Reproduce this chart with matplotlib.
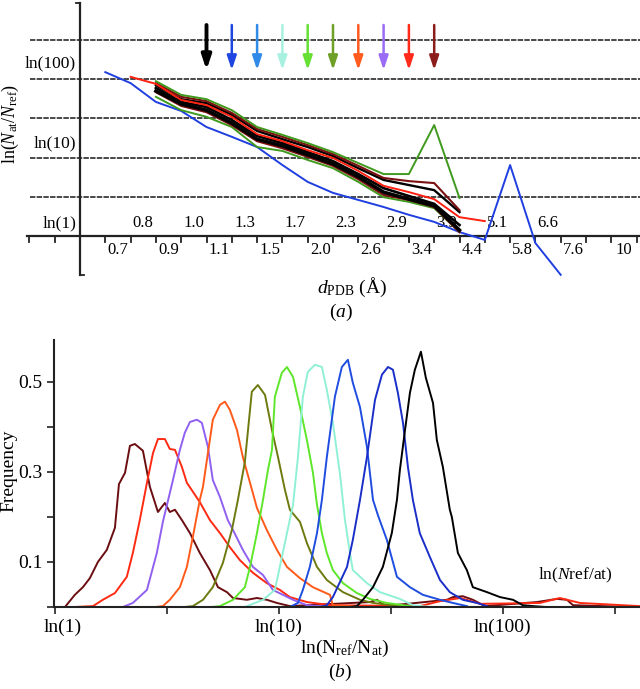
import matplotlib
matplotlib.use("Agg")
import matplotlib.pyplot as plt
from matplotlib.transforms import ScaledTranslation

plt.rcParams['font.family'] = ['Liberation Serif', 'DejaVu Serif']
plt.rcParams['mathtext.fontset'] = 'custom'
plt.rcParams['mathtext.rm'] = 'Liberation Serif'
plt.rcParams['mathtext.it'] = 'Liberation Serif:italic'

# ---------------- panel (a) data ----------------
res_lower = ['0.7', '0.9', '1.1', '1.5', '2.0', '2.6', '3.4', '4.4', '5.8', '7.6', '10']
res_lower_pos = [1.5, 3.5, 5.5, 7.5, 9.5, 11.5, 13.5, 15.5, 17.5, 19.5, 21.5]
res_upper = ['0.8', '1.0', '1.3', '1.7', '2.3', '2.9', '3.9', '5.1', '6.6']
res_upper_pos = [2.5, 4.5, 6.5, 8.5, 10.5, 12.5, 14.5, 16.5, 18.5]
ln_labels = ['ln(1)', 'ln(10)', 'ln(100)']
ln_label_pos = [0.33, 2.37, 4.41]
grid_levels = [1, 2, 3, 4, 5]

blue_x = list(range(1, 20))
blue_y = [4.18, 3.90, 3.42, 3.19, 2.78, 2.53, 2.27, 1.81, 1.38, 1.10, 0.92, 0.74,
          0.54, 0.36, 0.10, -0.10, 1.81, -0.18, -0.99]
red_x = list(range(2, 17))
red_y = [4.06, 3.88, 3.47, 3.34, 3.04, 2.60, 2.42, 2.19, 1.99, 1.66, 1.28, 1.12,
         0.94, 0.48, 0.38]
bundle_x = list(range(3, 16))
green_up = [3.95, 3.60, 3.49, 3.21, 2.78, 2.58, 2.37, 2.14, 1.86, 1.58, 1.58, 2.83, 0.97]
darkred_up = [3.90, 3.55, 3.44, 3.14, 2.73, 2.53, 2.32, 2.09, 1.79, 1.48, 1.40, 1.35, 0.66]
black_1 = [3.85, 3.49, 3.39, 3.09, 2.68, 2.47, 2.27, 2.04, 1.73, 1.43, 1.30, 1.17, 0.61]
black_2 = [3.78, 3.42, 3.29, 2.96, 2.55, 2.37, 2.14, 1.91, 1.58, 1.22, 1.02, 0.82, 0.28]
black_3 = [3.70, 3.37, 3.21, 2.88, 2.47, 2.30, 2.07, 1.84, 1.51, 1.12, 0.94, 0.77, 0.15]
darkred_lo = [3.67, 3.32, 3.16, 2.83, 2.42, 2.24, 2.02, 1.79, 1.45, 1.05, 0.92, 0.74, 0.10]
green_lo = [3.55, 3.21, 3.04, 2.78, 2.27, 2.17, 1.94, 1.73, 1.38, 0.99, 0.87, 0.71, 0.10]

arrow_x = [5, 6, 7, 8, 9, 10, 11, 12, 13, 14]
arrow_colors = ['#000000', '#1f45e0', '#2f8ae8', '#a8f0e0', '#66e033',
                '#6ea028', '#ff5a1f', '#9a6cf6', '#ff2a1a', '#8b1c1c']

# ---------------- panel (b) data ----------------
xb_ticks = [0, 0.5, 1, 1.5, 2, 2.5]
xb_labels = ['ln(1)', '', 'ln(10)', '', 'ln(100)', '']
yb_ticks = [0, 0.1, 0.2, 0.3, 0.4, 0.5]
yb_labels = ['', '0.1', '', '0.3', '', '0.5']

c1_x = [0.045, 0.089, 0.125, 0.156, 0.192, 0.232, 0.268, 0.286, 0.313, 0.335, 0.357, 0.393,
        0.424, 0.46, 0.491, 0.513, 0.536, 0.567, 0.603, 0.647, 0.692, 0.728, 0.768, 0.795,
        0.857, 0.902, 0.946, 0.991, 1.049, 1.406, 1.438, 1.473, 1.75, 1.777, 1.821, 1.866,
        1.92, 2.152, 2.241, 2.286, 2.313, 2.446, 2.58]
c1_y = [0.0, 0.027, 0.044, 0.064, 0.1, 0.127, 0.176, 0.273, 0.298, 0.358, 0.362, 0.347,
        0.267, 0.211, 0.231, 0.211, 0.216, 0.193, 0.164, 0.12, 0.082, 0.044, 0.033, 0.02,
        0.016, 0.02, 0.016, 0.009, 0.002, 0.011, 0.016, 0.002, 0.016, 0.022, 0.024, 0.016,
        0.002, 0.011, 0.018, 0.016, 0.004, 0.002, 0.0]
c2_x = [0.09, 0.17, 0.214, 0.268, 0.321, 0.348, 0.379, 0.411, 0.438, 0.46, 0.491, 0.513,
        0.536, 0.567, 0.589, 0.616, 0.647, 0.692, 0.737, 0.781, 0.826, 0.884, 0.946, 1.004,
        1.049, 1.125, 1.228, 1.63, 1.72, 1.81, 1.90, 2.165, 2.254, 2.344, 2.61]
c2_y = [0.0, 0.002, 0.016, 0.031, 0.067, 0.12, 0.193, 0.276, 0.342, 0.373, 0.373, 0.351,
        0.349, 0.311, 0.276, 0.256, 0.233, 0.193, 0.164, 0.133, 0.104, 0.076, 0.053, 0.038,
        0.022, 0.011, 0.004, 0.002, 0.013, 0.02, 0.007, 0.009, 0.02, 0.009, 0.002]
c3_x = [0.304, 0.348, 0.411, 0.455, 0.482, 0.527, 0.558, 0.58, 0.603, 0.634, 0.656, 0.683,
        0.705, 0.737, 0.772, 0.795, 0.839, 0.884, 0.929, 0.973, 1.018, 1.063, 1.125, 1.228]
c3_y = [0.0, 0.009, 0.038, 0.12, 0.189, 0.282, 0.349, 0.387, 0.411, 0.416, 0.409, 0.356,
        0.282, 0.244, 0.193, 0.171, 0.127, 0.089, 0.071, 0.038, 0.027, 0.016, 0.004, 0.0]
c4_x = [0.45, 0.482, 0.513, 0.558, 0.589, 0.616, 0.647, 0.661, 0.705, 0.737, 0.759, 0.781,
        0.813, 0.839, 0.871, 0.902, 0.946, 0.991, 1.036, 1.094, 1.152, 1.228, 1.241, 1.362]
c4_y = [0.0, 0.002, 0.016, 0.044, 0.089, 0.156, 0.238, 0.267, 0.416, 0.449, 0.456, 0.438,
        0.393, 0.333, 0.276, 0.22, 0.171, 0.127, 0.089, 0.064, 0.044, 0.027, 0.004, 0.0]
c5_x = [0.58, 0.616, 0.661, 0.705, 0.75, 0.79, 0.817, 0.848, 0.879, 0.906, 0.938, 0.969,
        0.996, 1.027, 1.049, 1.094, 1.125, 1.17, 1.214, 1.286, 1.362, 1.42, 1.54]
c5_y = [0.0, 0.002, 0.016, 0.044, 0.098, 0.171, 0.238, 0.322, 0.478, 0.493, 0.471, 0.393,
        0.333, 0.26, 0.216, 0.189, 0.142, 0.089, 0.06, 0.033, 0.016, 0.009, 0.002]
c6_x = [0.70, 0.737, 0.795, 0.848, 0.871, 0.902, 0.929, 0.951, 0.969, 0.982, 1.013, 1.036,
        1.063, 1.094, 1.125, 1.152, 1.17, 1.192, 1.214, 1.241, 1.286, 1.348, 1.406, 1.482, 1.585]
c6_y = [0.0, 0.002, 0.016, 0.044, 0.089, 0.164, 0.238, 0.304, 0.349, 0.467, 0.52, 0.533,
        0.511, 0.444, 0.371, 0.298, 0.227, 0.164, 0.12, 0.082, 0.053, 0.031, 0.018, 0.009, 0.002]
c7_x = [0.848, 0.929, 0.982, 1.004, 1.036, 1.063, 1.085, 1.107, 1.129, 1.161, 1.192, 1.214,
        1.241, 1.272, 1.295, 1.317, 1.33, 1.393, 1.451, 1.54, 1.598, 1.674]
c7_y = [0.0, 0.016, 0.038, 0.089, 0.164, 0.227, 0.333, 0.467, 0.522, 0.538, 0.533, 0.482,
        0.409, 0.298, 0.193, 0.12, 0.082, 0.053, 0.033, 0.018, 0.004, 0.0]
c8_x = [1.049, 1.085, 1.107, 1.138, 1.17, 1.192, 1.214, 1.25, 1.281, 1.308, 1.33, 1.362,
        1.393, 1.42, 1.442, 1.482, 1.527, 1.585, 1.643, 1.719, 1.777, 1.839]
c8_y = [0.0, 0.009, 0.038, 0.089, 0.164, 0.238, 0.333, 0.467, 0.533, 0.549, 0.498, 0.444,
        0.356, 0.238, 0.204, 0.149, 0.067, 0.044, 0.027, 0.016, 0.009, 0.002]
c9_x = [1.183, 1.214, 1.241, 1.304, 1.33, 1.362, 1.393, 1.429, 1.46, 1.487, 1.509, 1.531,
        1.554, 1.576, 1.598, 1.629, 1.674, 1.719, 1.763, 1.821, 1.884, 1.929]
c9_y = [0.0, 0.004, 0.022, 0.089, 0.149, 0.238, 0.333, 0.46, 0.516, 0.533, 0.527, 0.476,
        0.409, 0.311, 0.238, 0.164, 0.111, 0.06, 0.033, 0.016, 0.009, 0.002]
c10_x = [1.317, 1.348, 1.375, 1.42, 1.464, 1.504, 1.527, 1.54, 1.563, 1.585, 1.607, 1.634,
         1.656, 1.688, 1.705, 1.732, 1.763, 1.772, 1.799, 1.839, 1.866, 1.929, 1.987, 2.045,
         2.089, 2.134, 2.19]
c10_y = [0.0, 0.002, 0.016, 0.044, 0.089, 0.164, 0.238, 0.304, 0.393, 0.476, 0.527, 0.567,
         0.509, 0.453, 0.371, 0.311, 0.216, 0.2, 0.12, 0.082, 0.044, 0.033, 0.022, 0.016,
         0.004, 0.002, 0.0]
curve_colors = ['#6b0e12', '#ff2a12', '#9060f0', '#ff5a1a', '#6e7a10',
                '#5ee62a', '#90f0d6', '#1f4de0', '#1a2ec8', '#000000']

# ---------------- figure ----------------
W, H = 640, 689
fig = plt.figure(figsize=(W / 100, H / 100), dpi=100)

# panel (a) axes mapped to pixel geometry
ax1 = fig.add_axes([0, 1 - 330 / H, 1, 330 / H])
ux, vy = 25.3, 39.2
ax1.set_xlim(-80 / ux, 560 / ux)
ax1.set_ylim((236 - 330) / vy, 236 / vy)
ax1.axis('off')

for g in grid_levels:
    ax1.plot([-50 / ux, 560 / ux], [g, g], color='#3a3a3a', lw=1.3,
             linestyle=(0, (3, 0.7)), zorder=1)
# x axis
ax1.plot([-53 / ux, 560 / ux], [0, 0], color='#222222', lw=1.6, zorder=2)
for t in range(-2, 23):
    ax1.plot([t, t], [0, -6 / vy], color='#222222', lw=1.3, zorder=2)
# y axis with caps
ax1.plot([0, 0], [-1, 233 / vy], color='#222222', lw=1.6, zorder=2)
ax1.plot([0, 4 / ux], [-1, -1], color='#222222', lw=1.3)
ax1.plot([-4 / ux, 0], [233 / vy, 233 / vy], color='#222222', lw=1.3)

for lab, pos in zip(res_lower, res_lower_pos):
    ax1.text(pos, -0.36, lab, ha='center', va='center', fontsize=12)
for lab, pos in zip(res_upper, res_upper_pos):
    ax1.text(pos, 0.33, lab, ha='center', va='center', fontsize=12)
for lab, pos in zip(ln_labels, ln_label_pos):
    ax1.text(-0.15, pos, lab, ha='right', va='center', fontsize=12.5)

ax1.text(-2.75, 2.85, r'ln($N_{\rm at}$/$N_{\rm ref}$)', rotation=90,
         ha='center', va='center', fontsize=13)
ax1.text(10.75, -1.30, r'$d_{\rm PDB}$ (Å)', ha='center', va='center', fontsize=14)
ax1.text(10.3, -1.94, r'($a$)', ha='center', va='center', fontsize=14)

# curves
ax1.plot(blue_x, blue_y, color='#1f3fe0', lw=1.4, zorder=3)
bundle = [(green_lo, '#3f9a1e', 1.4), (darkred_lo, '#7a1010', 1.6), (black_3, '#000000', 2.5),
          (black_2, '#000000', 1.9), (black_1, '#000000', 1.7), (darkred_up, '#7a1010', 1.5),
          (green_up, '#3f9a1e', 1.4)]
for ys, c, lw in bundle:
    ax1.plot(bundle_x, ys, color=c, lw=lw, zorder=4)
ax1.plot(red_x, red_y, color='#ff2010', lw=1.4, zorder=5)

for ax_, c in zip(arrow_x, arrow_colors):
    lw = 2.8 if c == '#000000' else 1.8
    ax1.annotate('', xy=(ax_, (236 - 70) / vy), xytext=(ax_, (236 - 25) / vy),
                 arrowprops=dict(arrowstyle='-|>,head_length=0.6,head_width=0.2',
                                 color=c, lw=lw, mutation_scale=14,
                                 shrinkA=0, shrinkB=0), zorder=6)

# panel (b)
ax2 = fig.add_axes([54 / W, (H - 607) / H, (W - 54) / W, (607 - 340) / H])
for lx, ly, c in zip([c1_x, c2_x, c3_x, c4_x, c5_x, c6_x, c7_x, c8_x, c9_x, c10_x],
                     [c1_y, c2_y, c3_y, c4_y, c5_y, c6_y, c7_y, c8_y, c9_y, c10_y],
                     curve_colors):
    ax2.plot(lx, ly, color=c, lw=1.4)
ax2.set_xlim(-0.004, 2.612)
ax2.set_ylim(0, 0.593)
for s in ['top', 'right']:
    ax2.spines[s].set_visible(False)
for s in ['left', 'bottom']:
    ax2.spines[s].set_linewidth(1.5)
    ax2.spines[s].set_color('#222222')
ax2.set_xticks(xb_ticks)
ax2.set_xticklabels(xb_labels)
ax2.set_yticks(yb_ticks)
ax2.set_yticklabels(yb_labels)
ax2.tick_params(direction='out', length=5, width=1.2, labelsize=14, colors='#222222',
                labelcolor='black')
lbl0 = ax2.get_xticklabels()[0]
lbl0.set_transform(lbl0.get_transform() + ScaledTranslation(8 / 100, 0, fig.dpi_scale_trans))

fig.text(9 / W, 1 - 471 / H, 'Frequency', rotation=90, ha='center', va='center', fontsize=14)
fig.text(575 / W, 1 - 575 / H, r'ln($N$ref/at)', ha='center', va='center', fontsize=12.5)
fig.text(345 / W, 1 - 648 / H, r'ln(N$_{\rm ref}$/N$_{\rm at}$)', ha='center', va='center',
         fontsize=14)
fig.text(340 / W, 1 - 672 / H, r'($b$)', ha='center', va='center', fontsize=14)

fig.savefig('out.png', dpi=100)
